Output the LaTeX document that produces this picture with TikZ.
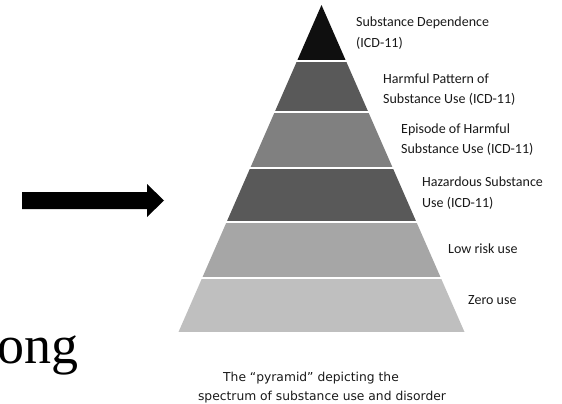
\documentclass[tikz,border=0pt]{standalone}
\usepackage{fontspec}
\setmainfont{Carlito}
\newfontfamily\capfont{DejaVu Sans}
\newfontfamily\pagefont{Liberation Serif}
\usetikzlibrary{positioning, calc}
\definecolor{lvlA}{gray}{0.06}
\definecolor{lvlB}{gray}{0.35}
\definecolor{lvlC}{gray}{0.50}
\definecolor{lvlD}{gray}{0.35}
\definecolor{lvlE}{gray}{0.65}
\definecolor{lvlF}{gray}{0.75}

\begin{document}
\begin{tikzpicture}[
  x=1pt, y=-1pt,
  every node/.style={inner sep=0pt, text=black!90},
  lbl/.style     = {anchor=west, align=left, font=\fontsize{14}{20.5}\selectfont},
  captext/.style = {align=center, font=\capfont\fontsize{12.3}{19}\selectfont},
  pointer/.style = {fill=black},
]
  \useasboundingbox (0,0) rectangle (562,404);
  % Pyramid: one triangle, cut into six shaded bands.
  \coordinate (apex) at (321.5,5);
  \coordinate (bl)   at (178.5,332);
  \coordinate (br)   at (464.5,332);
  \begin{scope}
    \clip (apex) -- (br) -- (bl) -- cycle;
    \foreach \t/\b/\c in {5/60/lvlA, 62/111/lvlB, 113/167/lvlC,
                          169/221/lvlD, 223/277/lvlE, 279/332/lvlF}
       \fill[\c] (170,\t) rectangle (480,\b);
  \end{scope}

  \node[lbl] (dep)  at (356,33)    {Substance Dependence\\(ICD-11)};
  \node[lbl] (pat)  at (383,89.5)  {Harmful Pattern of\\Substance Use (ICD-11)};
  \node[lbl] (epi)  at (401,139.5) {Episode of Harmful\\Substance Use (ICD-11)};
  \node[lbl] (haz)  at (422,193)   {Hazardous Substance\\Use (ICD-11)};
  \node[lbl] (low)  at (448,249)   {Low risk use};
  \node[lbl] (zero) at (468,300)   {Zero use};

  \node[captext] (caption) at (322,387.5)
     {The “pyramid” depicting the\hspace*{22pt}\\spectrum of substance use and disorder};

  % big arrow pointing at the pyramid
  \coordinate (tip) at (164,200.5);
  \fill[pointer] (22,192) -- (147,192) -- (147,184) -- (tip)
                 -- (147,217) -- (147,209) -- (22,209) -- cycle;

  \node[anchor=base west, text=black, font=\pagefont\fontsize{54}{54}\selectfont]
     (word) at (-3,363) {ong};
\end{tikzpicture}
\end{document}
